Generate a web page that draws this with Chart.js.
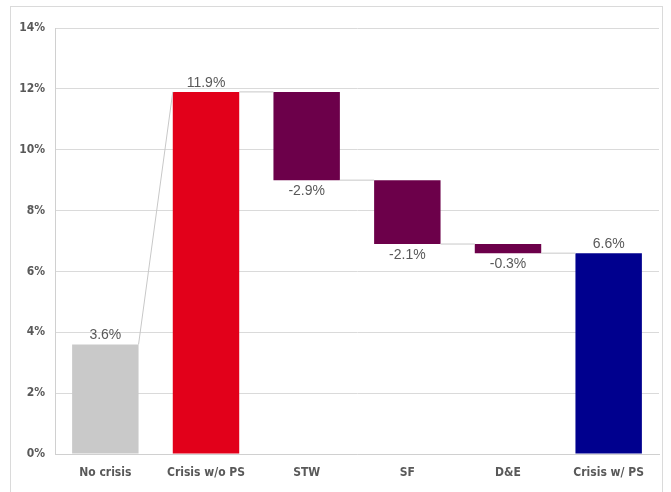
<!DOCTYPE html>
<html>
<head>
<meta charset="utf-8">
<script src="https://cdn.jsdelivr.net/npm/chart.js@4/dist/chart.umd.min.js"></script>
<style>
  html, body { margin: 0; padding: 0; background: #fff; }
  #wrap { width: 671px; height: 492px; position: relative; }
</style>
</head>
<body>
<div id="wrap"><canvas id="c" width="671" height="492"></canvas></div>
<script>
// Waterfall: unemployment rate path, category by category
const categories = ['No crisis', 'Crisis w/o PS', 'STW', 'SF', 'D&E', 'Crisis w/ PS'];
const stepValues = [3.6, 11.9, -2.9, -2.1, -0.3, 6.6];
const stepKinds  = ['total', 'total', 'delta', 'delta', 'delta', 'total'];
const barColors  = ['#C9C9C9', '#E2001A', '#6C004A', '#6C004A', '#6C004A', '#00008E'];
const yTicks     = [0, 2, 4, 6, 8, 10, 12, 14];

// Build floating [start, end] ranges from the step values
let level = 0;
const ranges = [];
const startLevels = [];
const endLevels = [];
stepValues.forEach((v, i) => {
  if (stepKinds[i] === 'total') {
    ranges.push([0, v]);
    startLevels.push(v);
    level = v;
  } else {
    const next = +(level + v).toFixed(2);
    ranges.push([next, level]);
    startLevels.push(level);
    level = next;
  }
  endLevels.push(level);
});

const fmt = v => v.toFixed(1) + '%';
const axisFont = '"DejaVu Sans Condensed", "Liberation Sans Narrow", sans-serif';

const frame = {
  id: 'frame',
  beforeDraw(chart) {
    const ctx = chart.ctx;
    ctx.save();
    ctx.strokeStyle = '#DADADA';
    ctx.lineWidth = 1;
    ctx.strokeRect(10.5, 6.5, 652, 490);
    ctx.restore();
  }
};

const connectors = {
  id: 'connectors',
  afterDatasetsDraw(chart) {
    const meta = chart.getDatasetMeta(0);
    const y = chart.scales.y;
    const ctx = chart.ctx;
    ctx.save();
    ctx.strokeStyle = '#C8C8C8';
    ctx.lineWidth = 1;
    for (let i = 0; i < meta.data.length - 1; i++) {
      const a = meta.data[i], b = meta.data[i + 1];
      ctx.beginPath();
      ctx.moveTo(a.x + a.width / 2, y.getPixelForValue(endLevels[i]));
      ctx.lineTo(b.x - b.width / 2, y.getPixelForValue(startLevels[i + 1]));
      ctx.stroke();
    }
    ctx.restore();
  }
};

const valueLabels = {
  id: 'valueLabels',
  afterDatasetsDraw(chart) {
    const meta = chart.getDatasetMeta(0);
    const y = chart.scales.y;
    const ctx = chart.ctx;
    ctx.save();
    ctx.font = '14px "Liberation Sans", Arial, sans-serif';
    ctx.fillStyle = '#595959';
    ctx.textAlign = 'center';
    meta.data.forEach((bar, i) => {
      const v = stepValues[i];
      const r = ranges[i];
      if (v >= 0) {
        ctx.textBaseline = 'bottom';
        ctx.fillText(fmt(v), bar.x, y.getPixelForValue(Math.max(r[0], r[1])) - 2);
      } else {
        ctx.textBaseline = 'top';
        ctx.fillText(fmt(v), bar.x, y.getPixelForValue(Math.min(r[0], r[1])) + 4);
      }
    });
    ctx.restore();
  }
};

new Chart(document.getElementById('c'), {
  type: 'bar',
  data: {
    labels: categories,
    datasets: [{
      data: ranges,
      backgroundColor: barColors,
      borderWidth: 0,
      categoryPercentage: 1,
      barPercentage: 0.66
    }]
  },
  options: {
    responsive: false,
    animation: false,
    devicePixelRatio: 1,
    layout: { padding: { left: 10, right: 12, top: 28, bottom: 0 } },
    plugins: {
      legend: { display: false },
      tooltip: { enabled: false }
    },
    scales: {
      x: {
        grid: { display: false, drawTicks: false },
        border: { color: '#D0D0D0' },
        ticks: {
          padding: 12,
          color: '#595959',
          font: { family: axisFont, size: 12, weight: 'bold' }
        },
        afterFit(s) { s.height = 38; }
      },
      y: {
        min: 0, max: 14,
        afterBuildTicks(s) { s.ticks = yTicks.map(v => ({ value: v })); },
        grid: { color: '#DADADA', drawTicks: false },
        border: { color: '#D0D0D0' },
        ticks: {
          padding: 10,
          color: '#595959',
          font: { family: axisFont, size: 12, weight: 'bold' },
          callback: v => v + '%'
        },
        afterFit(s) { s.width = 45; }
      }
    }
  },
  plugins: [frame, connectors, valueLabels]
});
</script>
</body>
</html>
